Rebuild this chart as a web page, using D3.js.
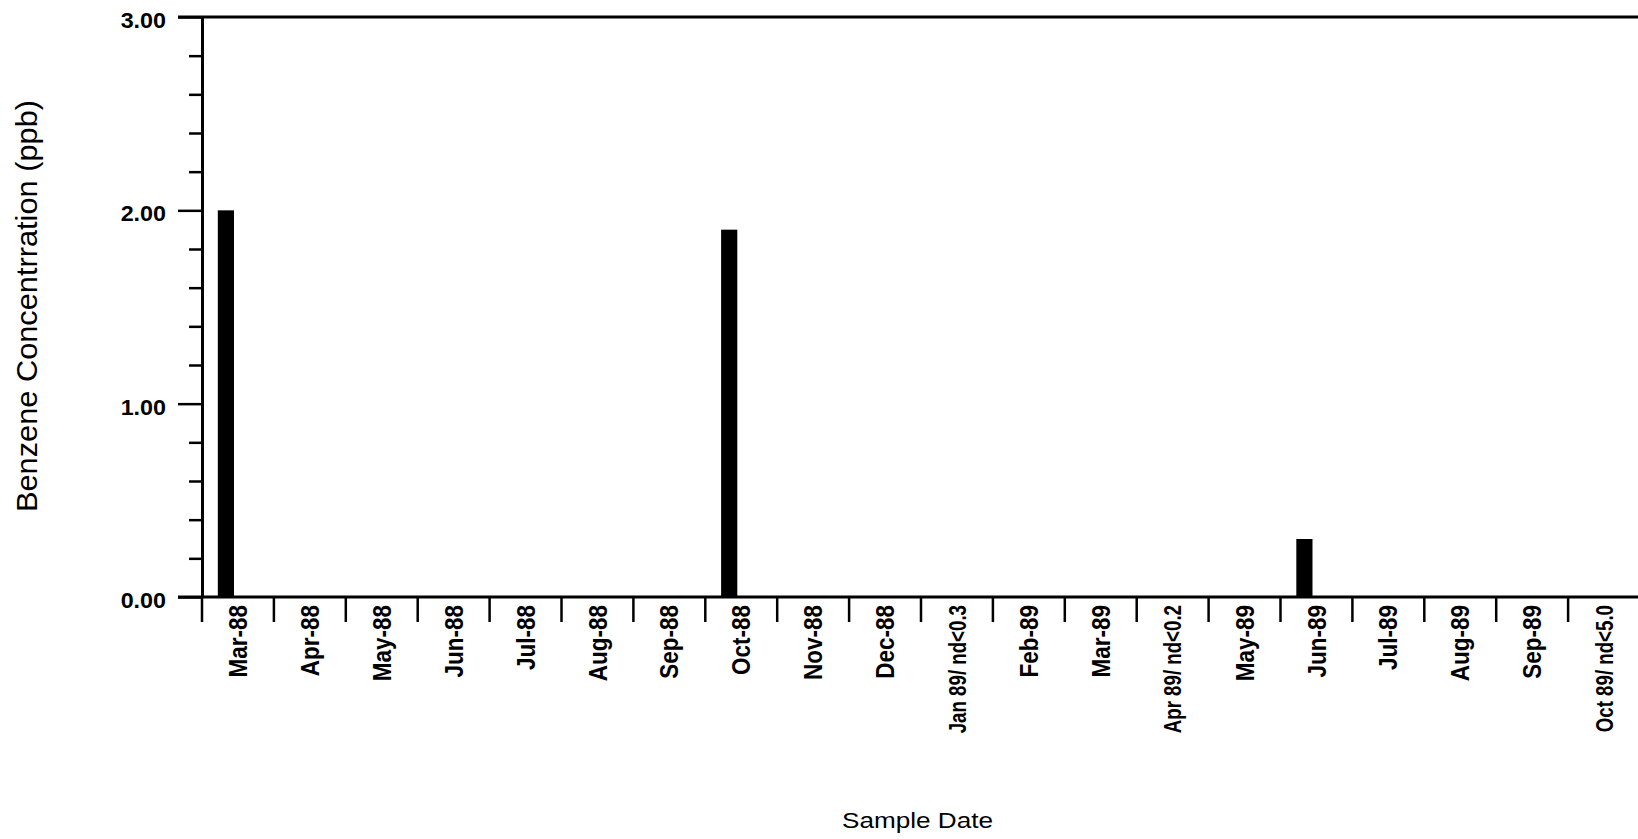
<!DOCTYPE html>
<html>
<head>
<meta charset="utf-8">
<script src="https://cdn.jsdelivr.net/npm/d3@7"></script>
<style>
  html, body { margin: 0; padding: 0; background: #fff; }
  svg { display: block; }
  text { font-family: "Liberation Sans", Arial, Helvetica, sans-serif; fill: #000; }
</style>
</head>
<body>
<svg id="chart" width="1638" height="839"></svg>
<script>
const categories = ["Mar-88","Apr-88","May-88","Jun-88","Jul-88","Aug-88","Sep-88","Oct-88","Nov-88","Dec-88","Jan 89/ nd<0.3","Feb-89","Mar-89","Apr 89/ nd<0.2","May-89","Jun-89","Jul-89","Aug-89","Sep-89","Oct 89/ nd<5.0"];
const values = [2.0,0,0,0,0,0,0,1.9,0,0,0,0,0,0,0,0.3,0,0,0,0];
const yMajorTicks = [0, 1, 2, 3];
const yMinorTicks = [0.2,0.4,0.6,0.8,1.2,1.4,1.6,1.8,2.2,2.4,2.6,2.8];
const yTitle = "Benzene Concentrration (ppb)";
const xTitle = "Sample Date";

(function () {
const svg = d3.select("#chart");
const mLeft = 202, mTop = 17, mBottom = 597, mRight = 1640;

const x = d3.scaleBand().domain(categories).range([mLeft, mRight]).paddingInner(0).paddingOuter(0);
const y = d3.scaleLinear().domain([0, 3]).range([mBottom, mTop]);
const bw = x.bandwidth();

// bars
svg.append("g").selectAll("rect")
  .data(categories.map((c, i) => ({c, v: values[i]})))
  .join("rect")
  .attr("x", d => x(d.c) + bw * 0.22)
  .attr("width", bw * 0.225)
  .attr("y", d => y(d.v))
  .attr("height", d => y(0) - y(d.v))
  .attr("fill", "#000");

// y axis major
const yAxis = d3.axisLeft(y).tickValues(yMajorTicks).tickFormat(d3.format(".2f")).tickSize(24).tickSizeOuter(0);
const gy = svg.append("g").attr("transform", `translate(${mLeft},0)`).call(yAxis);
gy.select(".domain").attr("stroke", "#000").attr("stroke-width", 3);
gy.selectAll(".tick line").attr("stroke", "#000").attr("stroke-width", 2.5);
gy.selectAll(".tick text")
  .attr("x", null).attr("dy", null)
  .attr("transform", "translate(-36,10.5) scale(1.06,1)")
  .attr("text-anchor", "end")
  .style("font-size", "22px").style("font-weight", "bold");

// y axis minor
const yMinor = d3.axisLeft(y).tickValues(yMinorTicks).tickFormat("").tickSize(13).tickSizeOuter(0);
const gm = svg.append("g").attr("transform", `translate(${mLeft},0)`).call(yMinor);
gm.select(".domain").remove();
gm.selectAll(".tick line").attr("stroke", "#000").attr("stroke-width", 2.5);

// top line and baseline
svg.append("line").attr("x1", mLeft - 24).attr("x2", 1638).attr("y1", y(3)).attr("y2", y(3))
  .attr("stroke", "#000").attr("stroke-width", 3);
svg.append("line").attr("x1", mLeft - 24).attr("x2", 1638).attr("y1", y(0)).attr("y2", y(0))
  .attr("stroke", "#000").attr("stroke-width", 3);

// x category ticks at band boundaries
const gx = svg.append("g");
gx.selectAll("line.xt").data(categories).join("line").attr("class", "xt")
  .attr("x1", d => x(d)).attr("x2", d => x(d))
  .attr("y1", y(0)).attr("y2", y(0) + 25)
  .attr("stroke", "#000").attr("stroke-width", 2.5);

const isNd = d => d.indexOf("nd<") >= 0;
gx.selectAll("text.xl").data(categories).join("text").attr("class", "xl")
  .attr("transform", d => isNd(d)
    ? `translate(${x(d) + bw / 2},605) scale(1.3,1) rotate(-90)`
    : `translate(${x(d) + bw / 2},605) scale(1.12,1) rotate(-90)`)
  .attr("text-anchor", "end")
  .attr("dy", "0.36em")
  .style("font-size", d => isNd(d) ? "18.7px" : "22.5px")
  .style("font-weight", "bold")
  .text(d => d);

// axis titles
svg.append("text")
  .attr("transform", "translate(37,306) rotate(-90)")
  .attr("text-anchor", "middle")
  .attr("textLength", 412).attr("lengthAdjust", "spacingAndGlyphs")
  .style("font-size", "29px")
  .text(yTitle);

svg.append("text")
  .attr("x", 917.5).attr("y", 828)
  .attr("text-anchor", "middle")
  .attr("textLength", 151).attr("lengthAdjust", "spacingAndGlyphs")
  .style("font-size", "22.5px")
  .text(xTitle);
})();
</script>
</body>
</html>
